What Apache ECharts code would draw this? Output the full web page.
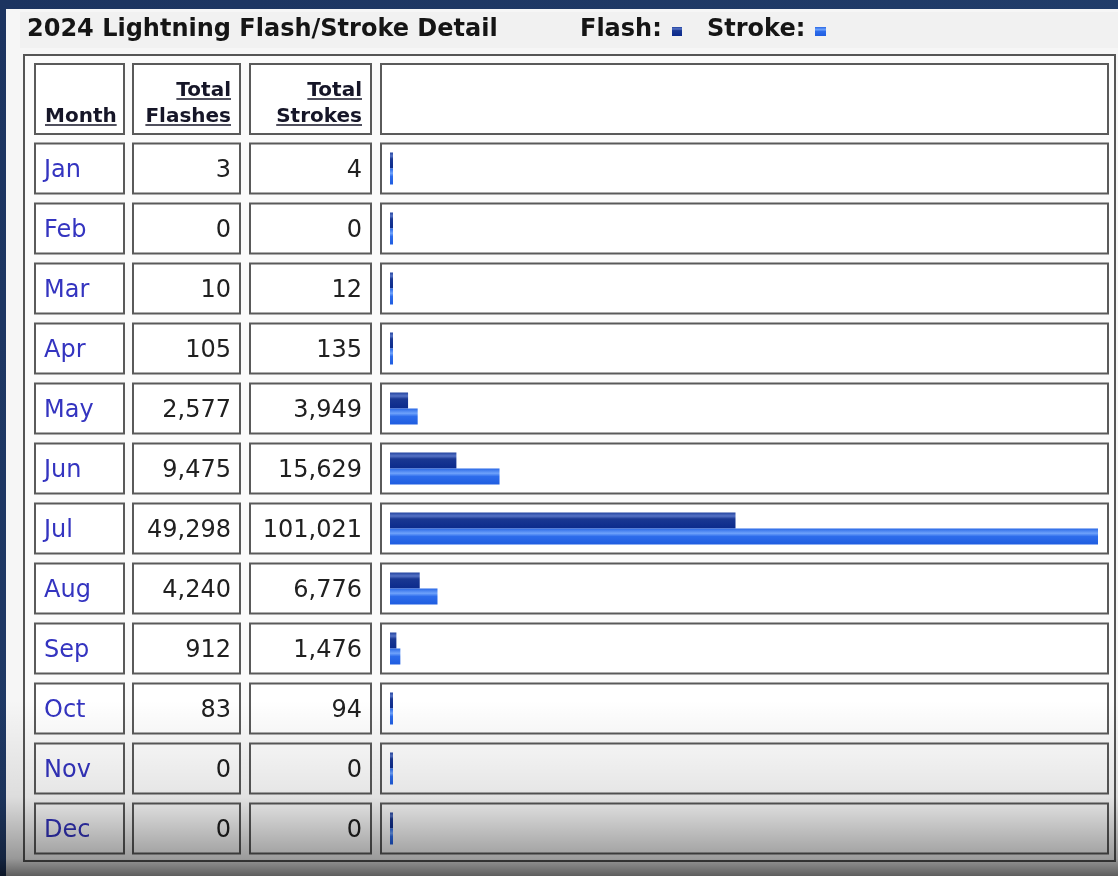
<!DOCTYPE html>
<html>
<head>
<meta charset="utf-8">
<script src="https://cdn.jsdelivr.net/npm/echarts@6/dist/echarts.min.js"></script>
<style>
html,body{margin:0;padding:0;background:#1f3763;}
#chart{width:1118px;height:876px;}
</style>
</head>
<body>
<div id="chart"></div>
<script>
// ---- data ----
const title = '2024 Lightning Flash/Stroke Detail';
const legendLabels = ['Flash:', 'Stroke:'];
const headerLabels = [['Month'], ['Total', 'Flashes'], ['Total', 'Strokes']];
const months = ['Jan','Feb','Mar','Apr','May','Jun','Jul','Aug','Sep','Oct','Nov','Dec'];
const flashes = [3, 0, 10, 105, 2577, 9475, 49298, 4240, 912, 83, 0, 0];
const strokes = [4, 0, 12, 135, 3949, 15629, 101021, 6776, 1476, 94, 0, 0];

// ---- layout / style ----
const FONT = '"DejaVu Sans", Verdana, sans-serif';
const COLS = [{x:35,w:89},{x:133,w:107},{x:250,w:121},{x:381,w:727}];
const CELL_H = 50;
const fmt = v => v.toLocaleString('en-US');

const flashColor = new echarts.graphic.LinearGradient(0,0,0,1,[
  {offset:0,color:'#23439f'},{offset:0.22,color:'#5673c6'},{offset:0.4,color:'#1a3893'},{offset:1,color:'#0b2a8c'}]);
const strokeColor = new echarts.graphic.LinearGradient(0,0,0,1,[
  {offset:0,color:'#2a68e6'},{offset:0.3,color:'#6ea2fb'},{offset:0.5,color:'#2d6ceb'},{offset:1,color:'#1f5de0'}]);

const ctx = document.createElement('canvas').getContext('2d');
function textW(t, size, weight){ ctx.font = weight+' '+size+'px '+FONT; return ctx.measureText(t).width; }

// header graphics
const g = [];
g.push({type:'rect', shape:{x:6,y:9,width:1112,height:867}, style:{fill:'#f6f6f6'}, z:0});
g.push({type:'rect', shape:{x:20,y:12,width:1098,height:36}, style:{fill:'#f1f1f1'}, z:0});
g.push({type:'rect', shape:{x:24,y:55,width:1091,height:806}, style:{fill:'#fbfbfb', stroke:'#555', lineWidth:2}, z:0});
g.push({type:'text', left:27, top:18, style:{text:title, font:'bold 24px '+FONT, fill:'#151515'}, z:5});
g.push({type:'text', left:580, top:18, style:{text:legendLabels[0], font:'bold 24px '+FONT, fill:'#151515'}, z:5});
g.push({type:'rect', shape:{x:672,y:27,width:10,height:9}, style:{fill:flashColor}, z:5});
g.push({type:'text', left:707, top:18, style:{text:legendLabels[1], font:'bold 24px '+FONT, fill:'#151515'}, z:5});
g.push({type:'rect', shape:{x:815,y:27,width:11,height:9}, style:{fill:strokeColor}, z:5});
COLS.forEach(c => g.push({type:'rect', shape:{x:c.x,y:64,width:c.w,height:70}, style:{fill:'#fff', stroke:'#5a5a5a', lineWidth:2}, z:1}));
headerLabels.forEach((lines, ci) => {
  const c = COLS[ci];
  lines.forEach((t, li) => {
    const yb = 127 - (lines.length - 1 - li) * 26;
    const w = textW(t, 20, 'bold');
    const x = ci === 0 ? c.x + 10 : c.x + c.w - 9 - w;
    g.push({type:'text', x:x, y:yb, style:{text:t, font:'bold 20px '+FONT, fill:'#161628', textVerticalAlign:'bottom', textBaseline:'bottom'}, z:5});
    g.push({type:'line', shape:{x1:x, y1:yb-2, x2:x+w, y2:yb-2}, style:{stroke:'#161628', lineWidth:1.5}, z:5});
  });
});
// bottom vignette
g.push({type:'rect', silent:true, shape:{x:0,y:700,width:1118,height:176}, style:{fill:new echarts.graphic.LinearGradient(0,0,0,1,[
  {offset:0,color:'rgba(0,0,0,0)'},{offset:0.55,color:'rgba(0,0,0,0.1)'},{offset:0.9,color:'rgba(0,0,0,0.38)'},{offset:1,color:'rgba(0,0,0,0.62)'}])}, z:100});

const chart = echarts.init(document.getElementById('chart'), null, {renderer:'canvas'});
chart.setOption({
  backgroundColor: new echarts.graphic.LinearGradient(0,0,1,1,[{offset:0,color:'#1c3460'},{offset:1,color:'#24426f'}]),
  animation: false,
  graphic: g,
  grid: {left:390, right:20, top:138.5, height:720},
  xAxis: {type:'value', min:0, max:'dataMax', show:false},
  yAxis: {type:'category', data:months, inverse:true, show:false},
  series: [
    {
      type:'custom', z:1, clip:false,
      data: months.map((m,i)=>[0,i]),
      encode:{x:0,y:1},
      renderItem: (params, api) => {
        const i = api.value(1);
        const p = api.coord([0, i]);
        const cy = p[1];
        const ty = cy + 2;
        const children = COLS.map(c => ({type:'rect', shape:{x:c.x,y:cy-CELL_H/2,width:c.w,height:CELL_H}, style:{fill:'#fff', stroke:'#5a5a5a', lineWidth:2}}));
        children.push({type:'text', x:COLS[0].x+9, y:ty, style:{text:months[i], font:'24px '+FONT, fill:'#3434c0', verticalAlign:'middle', align:'left'}});
        children.push({type:'text', x:COLS[1].x+COLS[1].w-9, y:ty, style:{text:fmt(flashes[i]), font:'24px '+FONT, fill:'#202020', verticalAlign:'middle', align:'right'}});
        children.push({type:'text', x:COLS[2].x+COLS[2].w-9, y:ty, style:{text:fmt(strokes[i]), font:'24px '+FONT, fill:'#202020', verticalAlign:'middle', align:'right'}});
        return {type:'group', children};
      }
    },
    {type:'bar', name:'Flash', data:flashes, barWidth:16, barGap:'0%', barMinHeight:3, itemStyle:{color:flashColor}, z:3},
    {type:'bar', name:'Stroke', data:strokes, barWidth:16, barGap:'0%', barMinHeight:3, itemStyle:{color:strokeColor}, z:3}
  ]
});
</script>
</body>
</html>
